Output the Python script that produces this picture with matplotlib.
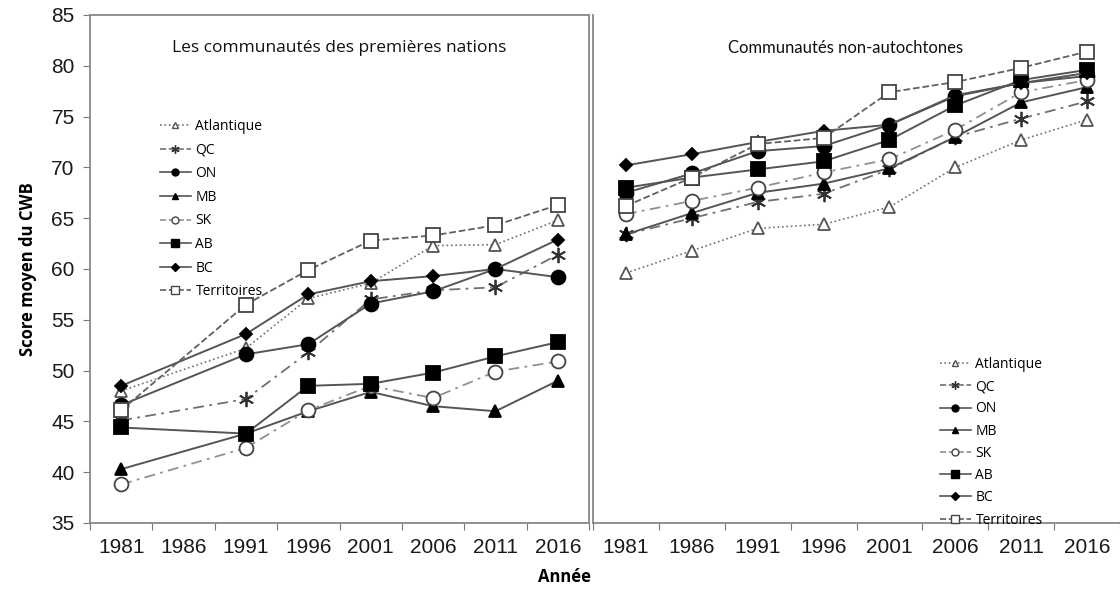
import numpy as np
import matplotlib
matplotlib.use("Agg")
import matplotlib.pyplot as plt
from matplotlib.lines import Line2D

years = ["1981", "1986", "1991", "1996", "2001", "2006", "2011", "2016"]
series = ["Atlantique", "QC", "ON", "MB", "SK", "AB", "BC", "Territoires"]

# Premières nations (no 1986 value)
fn_atl = [48.0, np.nan, 52.2, 57.1, 58.6, 62.3, 62.4, 64.8]
fn_qc = [45.1, np.nan, 47.2, 51.8, 57.0, 57.9, 58.2, 61.4]
fn_on = [46.6, np.nan, 51.6, 52.6, 56.6, 57.8, 60.0, 59.2]
fn_mb = [40.3, np.nan, 43.8, 46.0, 47.9, 46.5, 46.0, 49.0]
fn_sk = [38.8, np.nan, 42.4, 46.1, 48.5, 47.3, 49.9, 50.9]
fn_ab = [44.4, np.nan, 43.8, 48.5, 48.7, 49.8, 51.4, 52.8]
fn_bc = [48.5, np.nan, 53.6, 57.5, 58.8, 59.3, 60.0, 62.9]
fn_ter = [46.1, np.nan, 56.5, 59.9, 62.8, 63.3, 64.3, 66.3]

# Non-autochtones
na_atl = [59.6, 61.8, 64.0, 64.4, 66.1, 70.0, 72.7, 74.7]
na_qc = [63.4, 65.0, 66.6, 67.4, 69.8, 73.0, 74.8, 76.5]
na_on = [67.5, 69.4, 71.6, 72.1, 74.2, 77.0, 78.3, 79.0]
na_mb = [63.4, 65.5, 67.5, 68.4, 69.9, 73.0, 76.4, 77.9]
na_sk = [65.4, 66.7, 68.0, 69.5, 70.8, 73.7, 77.4, 78.6]
na_ab = [68.0, 69.0, 69.8, 70.6, 72.7, 76.1, 78.6, 79.6]
na_bc = [70.2, 71.3, 72.5, 73.6, 74.2, 77.1, 78.3, 79.3]
na_ter = [66.2, 69.0, 72.3, 72.9, 77.4, 78.4, 79.8, 81.4]

fn_data = [fn_atl, fn_qc, fn_on, fn_mb, fn_sk, fn_ab, fn_bc, fn_ter]
na_data = [na_atl, na_qc, na_on, na_mb, na_sk, na_ab, na_bc, na_ter]

DD = (0, (6, 3, 1.5, 3))
styles = [
    dict(ls=":", marker="^", mfc="white", mec="#555555", ms=9, color="#707070", lw=1.2),
    dict(ls=DD, marker=(6, 2, 0), mfc="none", mec="#333333", ms=11, color="#707070", lw=1.3),
    dict(ls="-", marker="o", mfc="black", mec="black", ms=10, color="#555555", lw=1.4),
    dict(ls="-", marker="^", mfc="black", mec="black", ms=9, color="#555555", lw=1.4),
    dict(ls=DD, marker="o", mfc="white", mec="#444444", ms=10, color="#909090", lw=1.3),
    dict(ls="-", marker="s", mfc="black", mec="black", ms=10, color="#555555", lw=1.4),
    dict(ls="-", marker="D", mfc="black", mec="black", ms=6, color="#555555", lw=1.4),
    dict(ls="--", marker="s", mfc="white", mec="#444444", ms=10, color="#606060", lw=1.3),
]
leg_ms = [5, 6, 5, 5, 5, 6, 4, 6]

fig = plt.figure(figsize=(11.2, 5.94), dpi=100)
W, H = 1120, 594
bot = (594 - 523) / H
hgt = (523 - 15) / H
axL = fig.add_axes([90 / W, bot, (589 - 90) / W, hgt])
axR = fig.add_axes([593 / W, bot, (1120 - 593) / W, hgt])

xpos = np.arange(len(years))

def draw(ax, data):
    handles = []
    for vals, st in zip(data, styles):
        v = np.array(vals, dtype=float)
        m = ~np.isnan(v)
        h, = ax.plot(xpos[m], v[m], linestyle=st["ls"], marker=st["marker"],
                     markerfacecolor=st["mfc"], markeredgecolor=st["mec"],
                     markersize=st["ms"], color=st["color"], linewidth=st["lw"],
                     markeredgewidth=1.3)
        handles.append(h)
    ax.set_xlim(-0.5, len(years) - 0.5)
    ax.set_ylim(35, 85)
    ax.set_xticks(np.arange(len(years) + 1) - 0.5)
    ax.set_xticklabels([])
    ax.set_xticks(xpos, minor=True)
    ax.set_xticklabels(years, minor=True, fontsize=15, fontfamily="Liberation Sans", color="#1a1a1a")
    ax.tick_params(axis="x", which="minor", length=0, pad=11)
    ax.tick_params(axis="x", which="major", length=5, direction="out", color="#777777")
    for s in ax.spines.values():
        s.set_color("#888888")
        s.set_linewidth(1.3)
    return handles

hL = draw(axL, fn_data)
hR = draw(axR, na_data)

axL.set_yticks(np.arange(35, 86, 5))
axL.set_yticklabels([str(v) for v in range(35, 86, 5)], fontsize=15,
                    fontfamily="Liberation Sans", color="#1a1a1a")
axL.tick_params(axis="y", length=5, direction="out", color="#777777", pad=6)
axL.set_ylabel("Score moyen du CWB", fontsize=12, fontweight="bold", family="Open Sans", labelpad=10)

axR.set_yticks([])
axR.spines["top"].set_visible(False)
axR.spines["right"].set_visible(False)

axL.text(0.5, 0.935, "Les communautés des premières nations", transform=axL.transAxes,
         ha="center", va="center", fontsize=12.5, family="Open Sans", color="#111111")
axR.text(0.48, 0.935, "Communautés non-autochtones", transform=axR.transAxes,
         ha="center", va="center", fontsize=12, family="Lato", color="#111111")

fig.text(565 / W, 1 - 577 / H, "Année", ha="center", va="center", fontsize=12,
         fontweight="bold", family="Open Sans")

def mk_legend(ax, handles, anchor, spacing):
    hs = []
    for h, ms in zip(handles, leg_ms):
        hs.append(Line2D([], [], linestyle=h.get_linestyle(), color=h.get_color(),
                         marker=h.get_marker(), markerfacecolor=h.get_markerfacecolor(),
                         markeredgecolor=h.get_markeredgecolor(), markersize=ms,
                         linewidth=1.2))
    lg = ax.legend(hs, series, loc="upper left", bbox_to_anchor=anchor, frameon=False,
                   handlelength=2.2, labelspacing=spacing, handletextpad=0.35,
                   borderaxespad=0, borderpad=0,
                   prop={"family": "Open Sans", "size": 10})
    return lg

mk_legend(axL, hL, ((160 - 90) / 499, (523 - 119) / 508), 0.62)
mk_legend(axR, hR, ((940 - 593) / 527, (523 - 357) / 508), 0.52)

fig.savefig("out.png", dpi=100)
